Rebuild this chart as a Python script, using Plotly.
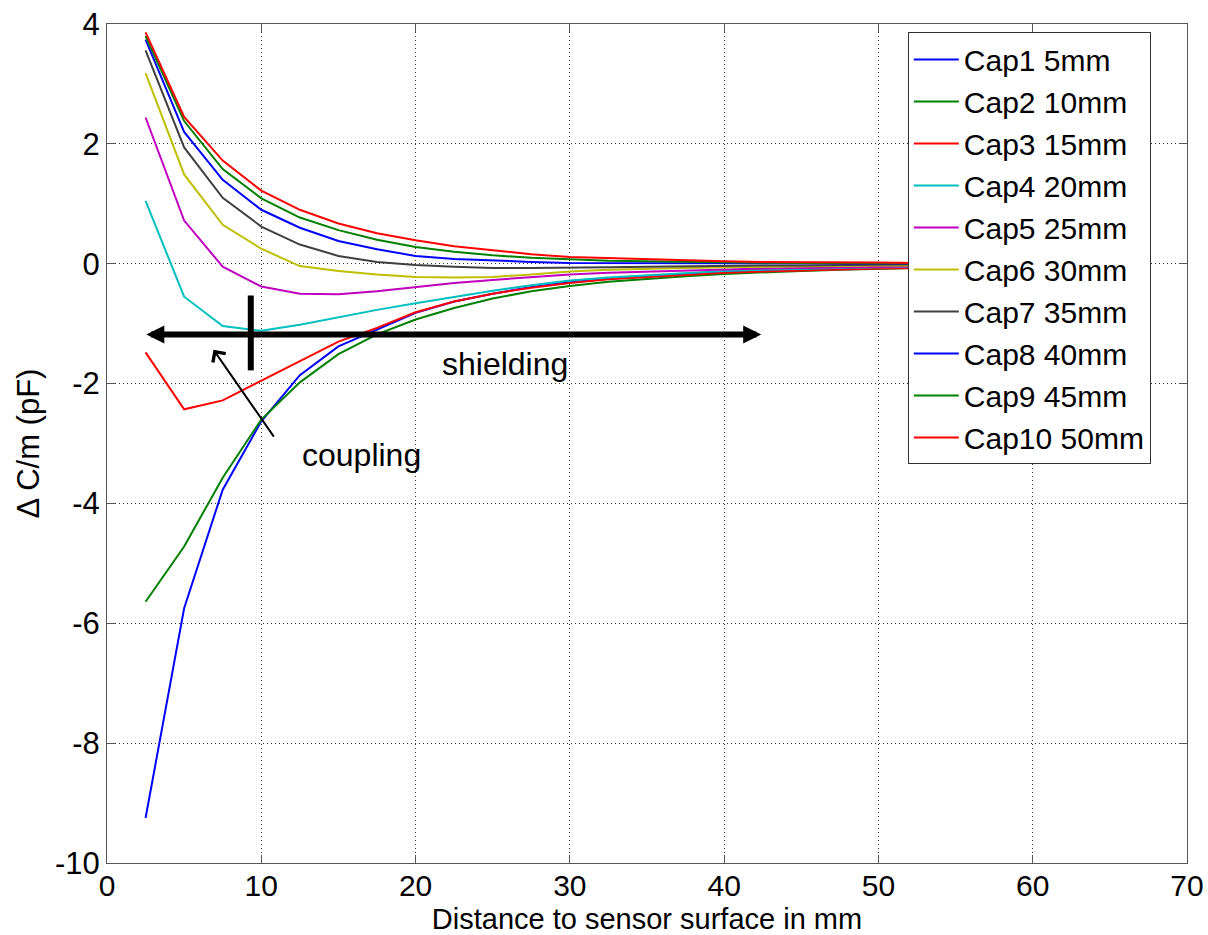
import plotly.graph_objects as go

# Distance to the sensor surface (mm)
distance_mm = [2.5, 5, 7.5, 10, 12.5, 15, 17.5, 20, 22.5, 25, 27.5, 30,
               32.5, 35, 37.5, 40, 42.5, 45, 47.5, 50, 52.5, 55, 57.5, 60]

# Change of capacitance per metre (pF) for each electrode spacing
cap1 = [-9.25, -5.75, -3.77, -2.63, -1.86, -1.38, -1.10, -0.82, -0.63, -0.50, -0.39, -0.31,
        -0.25, -0.21, -0.17, -0.14, -0.12, -0.10, -0.08, -0.07, -0.06, -0.05, -0.04, -0.04]
cap2 = [-5.64, -4.72, -3.57, -2.60, -1.98, -1.51, -1.18, -0.93, -0.74, -0.58, -0.46, -0.37,
        -0.30, -0.25, -0.21, -0.17, -0.14, -0.12, -0.10, -0.08, -0.07, -0.06, -0.05, -0.04]
cap3 = [-1.48, -2.43, -2.28, -1.95, -1.63, -1.30, -1.07, -0.81, -0.63, -0.50, -0.40, -0.32,
        -0.26, -0.22, -0.18, -0.15, -0.13, -0.11, -0.09, -0.08, -0.07, -0.06, -0.05, -0.04]
cap4 = [1.05, -0.55, -1.04, -1.12, -1.02, -0.89, -0.77, -0.66, -0.55, -0.45, -0.36, -0.28,
        -0.23, -0.19, -0.15, -0.12, -0.10, -0.08, -0.07, -0.06, -0.05, -0.04, -0.03, -0.03]
cap5 = [2.44, 0.72, -0.05, -0.38, -0.50, -0.51, -0.46, -0.39, -0.32, -0.27, -0.22, -0.18,
        -0.15, -0.13, -0.11, -0.09, -0.08, -0.07, -0.06, -0.05, -0.04, -0.03, -0.03, -0.02]
cap6 = [3.18, 1.49, 0.65, 0.25, -0.04, -0.12, -0.18, -0.22, -0.23, -0.22, -0.18, -0.13,
        -0.10, -0.08, -0.07, -0.06, -0.05, -0.04, -0.04, -0.03, -0.03, -0.02, -0.02, -0.01]
cap7 = [3.56, 1.94, 1.10, 0.62, 0.32, 0.13, 0.03, -0.02, -0.05, -0.07, -0.07, -0.07,
        -0.06, -0.05, -0.04, -0.04, -0.03, -0.03, -0.02, -0.02, -0.01, -0.01, -0.01, -0.01]
cap8 = [3.74, 2.20, 1.40, 0.90, 0.60, 0.38, 0.24, 0.13, 0.08, 0.05, 0.03, 0.01,
        0.01, 0.00, 0.00, 0.00, 0.00, 0.00, 0.00, 0.00, 0.00, 0.00, 0.00, 0.00]
cap9 = [3.80, 2.38, 1.58, 1.09, 0.77, 0.56, 0.40, 0.28, 0.20, 0.14, 0.10, 0.07,
        0.05, 0.04, 0.03, 0.02, 0.02, 0.01, 0.01, 0.01, 0.01, 0.00, 0.00, 0.00]
cap10 = [3.86, 2.45, 1.72, 1.22, 0.90, 0.67, 0.51, 0.39, 0.29, 0.22, 0.16, 0.11,
         0.09, 0.07, 0.05, 0.04, 0.03, 0.03, 0.02, 0.02, 0.01, 0.01, 0.01, 0.01]

series_names = ["Cap1 5mm", "Cap2 10mm", "Cap3 15mm", "Cap4 20mm", "Cap5 25mm",
                "Cap6 30mm", "Cap7 35mm", "Cap8 40mm", "Cap9 45mm", "Cap10 50mm"]
series_values = [cap1, cap2, cap3, cap4, cap5, cap6, cap7, cap8, cap9, cap10]
series_colors = ["#0000ff", "#008000", "#ff0000", "#00bfbf", "#bf00bf",
                 "#bfbf00", "#404040", "#0000ff", "#008000", "#ff0000"]

x_ticks = [0, 10, 20, 30, 40, 50, 60, 70]
y_ticks = [-10, -8, -6, -4, -2, 0, 2, 4]

FONT = "Arial, Liberation Sans, sans-serif"

fig = go.Figure()
for name, vals, col in zip(series_names, series_values, series_colors):
    fig.add_trace(go.Scatter(x=distance_mm, y=vals, mode="lines", name=name,
                             line=dict(color=col, width=2)))

axis_common = dict(
    automargin=False,
    showline=True, linecolor="#555555", linewidth=1, mirror="ticks",
    ticks="inside", ticklen=8, tickcolor="#555555",
    showgrid=True, gridcolor="#333333", griddash="1px,3px", gridwidth=1,
    zeroline=False,
)

fig.update_xaxes(range=[0, 70], tickvals=x_ticks, ticktext=[str(v) for v in x_ticks],
                 tickfont=dict(family=FONT, size=30, color="black"),
                 ticklabelstandoff=-4,
                 title=dict(text="Distance to sensor surface in mm",
                            font=dict(family=FONT, size=29, color="black"), standoff=8),
                 **axis_common)
fig.update_yaxes(range=[-10, 4], tickvals=y_ticks, ticktext=[str(v) for v in y_ticks],
                 tickfont=dict(family=FONT, size=31, color="black"),
                 title=dict(text="\u0394 C/m (pF)",
                            font=dict(family=FONT, size=31, color="black"), standoff=6),
                 **axis_common)

# Thick double-headed "shielding" arrow
fig.add_annotation(x=42.4, y=-1.18, ax=2.45, ay=-1.18, xref="x", yref="y",
                   axref="x", ayref="y", text="", showarrow=True,
                   arrowhead=2, startarrowhead=2, arrowside="end+start",
                   arrowwidth=6, arrowsize=0.6, startarrowsize=0.6,
                   arrowcolor="black", standoff=0, startstandoff=0)

# Short vertical marker crossing the arrow
fig.add_shape(type="line", x0=9.32, x1=9.32, y0=-0.53, y1=-1.78,
              xref="x", yref="y", line=dict(color="black", width=6))

# Thin "coupling" pointer
fig.add_annotation(x=6.9, y=-1.435, ax=10.88, ay=-2.91, xref="x", yref="y",
                   axref="x", ayref="y", text="", showarrow=True,
                   arrowhead=4, arrowwidth=2, arrowsize=1.5, arrowcolor="black",
                   standoff=0)

fig.add_annotation(x=25.8, y=-1.68, text="shielding", showarrow=False,
                   font=dict(family=FONT, size=32, color="black"))
fig.add_annotation(x=16.5, y=-3.19, text="coupling", showarrow=False,
                   font=dict(family=FONT, size=32, color="black"))

fig.update_layout(
    width=1208, height=935,
    margin=dict(l=107, r=21, t=24, b=72),
    paper_bgcolor="white", plot_bgcolor="white",
    font=dict(family=FONT, color="black"),
    legend=dict(x=0.7415, y=0.99, xanchor="left", yanchor="top",
                bgcolor="white", bordercolor="#333333", borderwidth=1,
                font=dict(family=FONT, size=30, color="black"),
                itemwidth=45, tracegroupgap=0),
)

fig.write_html("out.html")
